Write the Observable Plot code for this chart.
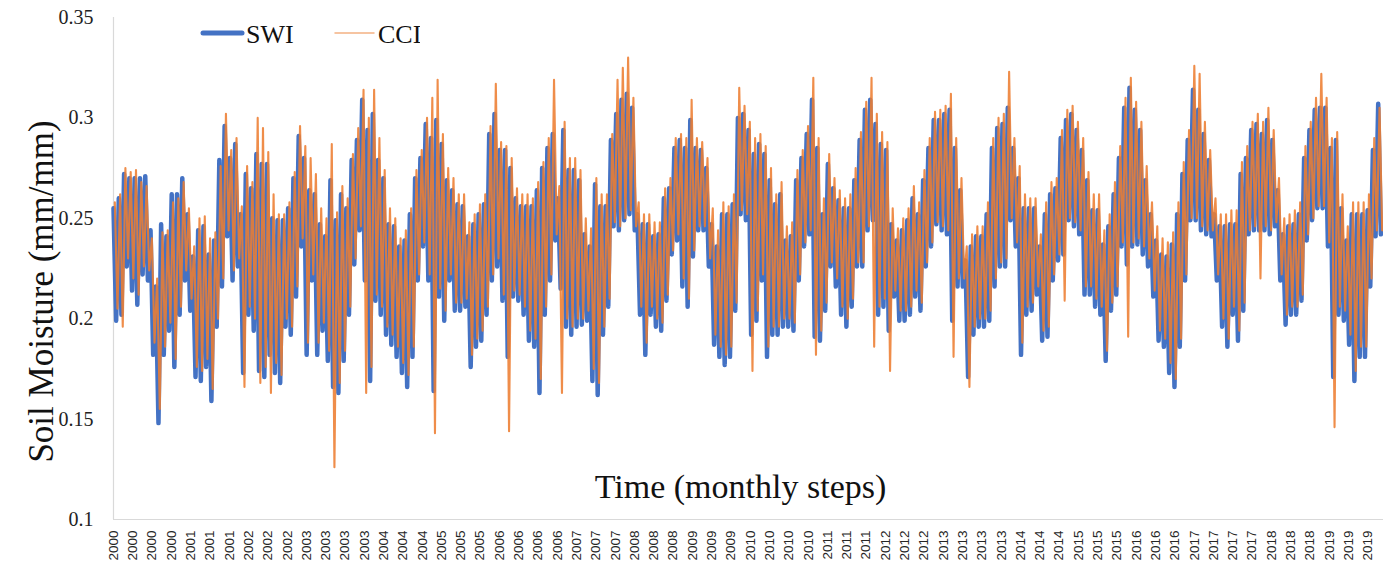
<!DOCTYPE html>
<html><head><meta charset="utf-8">
<script src="https://cdn.jsdelivr.net/npm/d3@7"></script>
<script src="https://cdn.jsdelivr.net/npm/@observablehq/plot@0.6"></script>
<style>
body{margin:0;background:#fff;}
#wrap{position:relative;width:1383px;height:569px;overflow:hidden;}
#legend{position:absolute;left:0;top:0;pointer-events:none;}
</style></head>
<body><div id="wrap"><div id="chart"></div>
<svg id="legend" width="420" height="60"></svg></div>
<script>
// x tick labels (one every 111 daily steps)
const tickYears = [2000,2000,2000,2000,2001,2001,2001,2002,2002,2002,2003,2003,2003,2003,2004,2004,2004,2005,2005,2005,2006,2006,2006,2006,2007,2007,2007,2008,2008,2008,2009,2009,2009,2010,2010,2010,2010,2011,2011,2011,2012,2012,2012,2013,2013,2013,2013,2014,2014,2014,2015,2015,2015,2016,2016,2016,2017,2017,2017,2017,2018,2018,2018,2019,2019,2019];
const yTicks = [0.1,0.15,0.2,0.25,0.3,0.35];
const seriesNames = ["SWI","CCI"];

// monthly upper / lower readings, Jan 2000 .. Dec 2019
const swiHi = [
.255,.260,.272,.270,.270,.270,.271,.244,.216,.247,.241,.262,
.262,.270,.252,.231,.244,.246,.232,.239,.279,.296,.280,.287,
.252,.272,.265,.282,.277,.277,.250,.249,.249,.255,.270,.291,
.280,.264,.262,.247,.241,.269,.249,.262,.255,.279,.289,.309,
.294,.302,.279,.270,.247,.246,.236,.239,.252,.270,.280,.297,
.290,.299,.287,.269,.264,.257,.256,.241,.247,.252,.257,.292,
.302,.284,.284,.275,.260,.256,.256,.256,.264,.275,.285,.292,
.260,.294,.274,.274,.269,.242,.236,.267,.256,.256,.289,.302,
.309,.312,.305,.252,.247,.247,.241,.242,.260,.265,.285,.289,
.285,.299,.285,.284,.275,.247,.236,.252,.252,.257,.300,.302,
.294,.282,.287,.282,.269,.257,.262,.239,.241,.269,.280,.292,
.309,.285,.252,.277,.265,.259,.255,.255,.269,.289,.304,.309,
.297,.287,.284,.247,.239,.244,.249,.260,.252,.269,.285,.299,
.299,.302,.304,.285,.264,.229,.236,.241,.241,.252,.285,.295,
.297,.305,.285,.270,.255,.255,.255,.236,.252,.262,.265,.290,
.299,.302,.294,.284,.269,.254,.254,.237,.246,.262,.280,.305,
.315,.304,.294,.269,.252,.239,.232,.231,.237,.252,.272,.289,
.314,.304,.292,.279,.252,.246,.246,.247,.247,.272,.280,.294,
.297,.292,.299,.289,.264,.242,.246,.247,.252,.280,.294,.304,
.305,.305,.285,.289,.255,.239,.252,.252,.252,.254,.284,.307];
const swiLo = [
.199,.202,.226,.214,.207,.222,.219,.182,.148,.182,.194,.176,
.202,.219,.204,.171,.169,.176,.159,.196,.216,.241,.219,.226,
.173,.202,.194,.174,.171,.182,.173,.168,.196,.192,.211,.236,
.182,.219,.182,.194,.179,.166,.163,.179,.202,.227,.244,.219,
.169,.209,.202,.192,.187,.181,.173,.166,.181,.219,.236,.219,
.164,.211,.199,.219,.204,.204,.206,.176,.186,.189,.202,.219,
.226,.209,.181,.211,.209,.202,.189,.186,.163,.202,.219,.239,
.215,.196,.192,.196,.197,.199,.169,.162,.192,.206,.246,.244,
.249,.252,.244,.202,.182,.202,.196,.194,.209,.232,.239,.216,
.206,.231,.244,.244,.226,.187,.181,.177,.181,.204,.252,.249,
.192,.199,.219,.181,.192,.192,.196,.196,.194,.219,.236,.242,
.191,.189,.204,.226,.216,.202,.196,.206,.226,.226,.244,.249,
.202,.206,.194,.211,.199,.199,.202,.211,.204,.226,.236,.247,
.244,.242,.199,.216,.216,.171,.192,.196,.196,.199,.216,.226,
.226,.249,.236,.182,.202,.204,.212,.189,.191,.219,.229,.232,
.249,.246,.242,.212,.212,.206,.202,.179,.204,.212,.236,.227,
.236,.237,.232,.226,.211,.189,.186,.173,.166,.186,.219,.249,
.249,.244,.242,.241,.219,.196,.186,.202,.189,.204,.242,.244,
.244,.244,.242,.246,.219,.197,.202,.202,.209,.239,.249,.255,
.255,.236,.171,.202,.199,.187,.169,.181,.181,.216,.241,.242];
const cciHi = [
.258,.262,.275,.273,.274,.268,.266,.240,.220,.243,.244,.258,
.260,.268,.255,.236,.250,.251,.240,.243,.276,.302,.284,.290,
.256,.276,.268,.300,.295,.283,.262,.252,.252,.258,.273,.296,
.286,.280,.272,.255,.250,.287,.253,.266,.260,.282,.295,.314,
.300,.314,.290,.274,.255,.250,.240,.244,.255,.274,.284,.300,
.310,.319,.292,.275,.270,.262,.262,.248,.252,.257,.262,.296,
.317,.288,.286,.280,.265,.262,.262,.260,.268,.278,.290,.319,
.266,.298,.280,.280,.274,.250,.245,.270,.262,.262,.292,.319,
.325,.330,.310,.258,.252,.252,.248,.248,.265,.270,.290,.292,
.290,.309,.290,.288,.280,.255,.244,.258,.256,.262,.315,.306,
.298,.290,.292,.286,.275,.262,.268,.246,.248,.274,.284,.296,
.320,.290,.260,.282,.270,.264,.260,.262,.275,.293,.308,.320,
.302,.293,.288,.255,.245,.250,.255,.266,.258,.274,.290,.303,
.304,.306,.312,.290,.270,.236,.242,.246,.246,.258,.290,.300,
.302,.323,.290,.276,.262,.260,.260,.242,.258,.268,.270,.294,
.304,.306,.298,.290,.273,.262,.262,.244,.252,.268,.286,.310,
.320,.308,.298,.276,.258,.246,.240,.238,.243,.258,.278,.294,
.326,.322,.298,.284,.260,.252,.252,.254,.254,.278,.286,.298,
.302,.298,.305,.294,.270,.250,.252,.254,.258,.286,.298,.310,
.322,.310,.290,.293,.262,.246,.258,.258,.258,.262,.290,.305];
const cciLo = [
.205,.196,.230,.220,.212,.226,.224,.188,.155,.186,.198,.180,
.206,.224,.210,.176,.174,.180,.165,.200,.220,.244,.224,.230,
.166,.206,.200,.168,.176,.163,.178,.172,.200,.196,.216,.240,
.188,.222,.188,.198,.184,.126,.168,.184,.206,.230,.246,.163,
.176,.212,.206,.196,.192,.186,.178,.172,.186,.222,.238,.222,
.143,.215,.204,.222,.208,.208,.210,.182,.190,.194,.206,.222,
.230,.212,.144,.214,.212,.206,.194,.190,.170,.206,.222,.242,
.163,.200,.196,.200,.200,.204,.175,.168,.196,.210,.248,.246,
.250,.254,.246,.206,.188,.206,.200,.198,.212,.234,.242,.220,
.210,.234,.246,.246,.230,.192,.186,.182,.186,.208,.254,.252,
.174,.204,.222,.186,.196,.196,.200,.200,.198,.222,.238,.244,
.182,.194,.208,.228,.220,.206,.200,.210,.228,.228,.246,.186,
.206,.210,.174,.214,.204,.204,.206,.214,.208,.228,.238,.248,
.246,.244,.181,.220,.220,.166,.196,.200,.200,.204,.220,.228,
.230,.250,.238,.188,.206,.208,.216,.194,.196,.222,.232,.209,
.250,.248,.244,.216,.216,.210,.206,.184,.208,.216,.238,.191,
.238,.240,.236,.230,.214,.194,.190,.178,.170,.190,.222,.250,
.250,.246,.244,.244,.222,.200,.190,.206,.194,.208,.244,.246,
.220,.246,.244,.248,.222,.202,.206,.206,.212,.242,.250,.256,
.256,.238,.146,.206,.204,.192,.174,.186,.186,.220,.244,.244];

const totalDays = 7305;               // Jan 2000 .. Dec 2019, daily steps
const monthDays = totalDays / 240;
const tickStep = 111;

function zigzag(hi, lo, phase) {
  const out = [];
  hi.forEach((h, m) => {
    out.push({t: (m + phase) * monthDays, v: h});
    out.push({t: (m + phase + 0.5) * monthDays, v: lo[m]});
  });
  return out;
}
const swi = zigzag(swiHi, swiLo, 0);
const cci = zigzag(cciHi, cciLo, 0.25);
const tickDays = tickYears.map((_, i) => i * tickStep);

const serif = "'Liberation Serif','Times New Roman',serif";
const sans = "'Liberation Sans',Arial,sans-serif";

const chart = Plot.plot({
  width: 1383, height: 569,
  marginLeft: 113, marginRight: 0, marginTop: 17, marginBottom: 50,
  x: {domain: [0, totalDays]},
  y: {domain: [0.1, 0.35]},
  style: {background: "#fff"},
  marks: [
    Plot.ruleX([0], {stroke: "#d9d9d9", strokeWidth: 1.2}),
    Plot.ruleY([0.1], {stroke: "#d9d9d9", strokeWidth: 1.2}),
    Plot.line(swi, {x: "t", y: "v", stroke: "#4472C4", strokeWidth: 4.5, strokeLinejoin: "round"}),
    Plot.line(cci, {x: "t", y: "v", stroke: "#ED7D31", strokeWidth: 2.1, strokeOpacity: 0.88, strokeLinejoin: "round"}),
    Plot.axisY(yTicks, {tickSize: 0, tickPadding: 20, label: null,
      tickFormat: d => String(+d.toFixed(2)), fontSize: 20, fontFamily: serif, fill: "#222"}),
    Plot.axisX(tickDays, {tickSize: 0, tickPadding: 11, tickRotate: -90, label: null,
      tickFormat: (d, i) => String(tickYears[i]), fontSize: 13.5, fontFamily: sans, fill: "#262626"}),
    Plot.text(["Time (monthly steps)"], {frameAnchor: "bottom", dx: -8, dy: -22, lineAnchor: "bottom",
      fontSize: 34, fontFamily: serif, fill: "#111"}),
    Plot.text(["Soil Moisture (mm/mm)"], {frameAnchor: "left", textAnchor: "middle", rotate: -90, dx: -72, dy: 23,
      fontSize: 35, fontFamily: serif, fill: "#111"})
  ]
});
document.getElementById("chart").appendChild(chart);

// legend
const colors = {SWI: "#4472C4", CCI: "#F4B183"};
const widths = {SWI: 5, CCI: 1.5};
const lg = d3.select("#legend");
const legX = [203, 335];
seriesNames.forEach((s, i) => {
  lg.append("line").attr("x1", legX[i]).attr("x2", legX[i] + 39).attr("y1", 33).attr("y2", 33)
    .attr("stroke", colors[s]).attr("stroke-width", widths[s]).attr("stroke-linecap", "round");
  lg.append("text").attr("x", legX[i] + 43).attr("y", 43).text(s)
    .attr("font-family", serif).attr("font-size", 26).attr("fill", "#111");
});
</script>
</body></html>
